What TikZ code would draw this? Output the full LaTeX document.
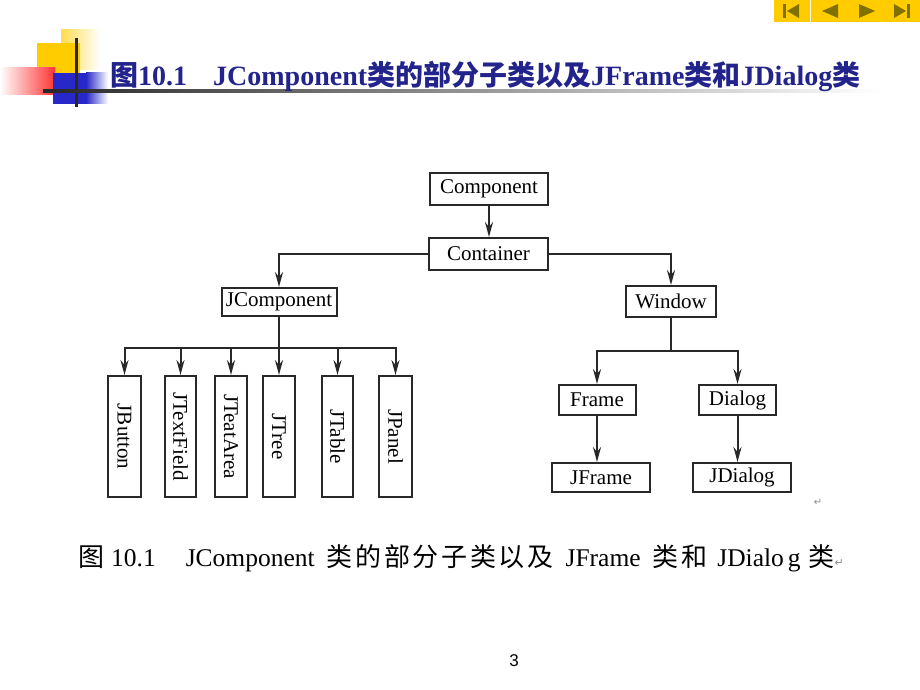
\documentclass[tikz,border=0pt]{standalone}
\usepackage{fontspec}
\setmainfont{Liberation Serif}
\newfontfamily\cjk{Noto Sans CJK SC}
\newfontfamily\dejavu{DejaVu Sans}
\newfontfamily\lsans{Liberation Sans}
\usetikzlibrary{arrows.meta}
\definecolor{titleblue}{RGB}{35,35,140}
\definecolor{navgold}{RGB}{255,204,0}
\definecolor{navolive}{RGB}{128,112,0}
\definecolor{decoyellow}{RGB}{255,204,0}
\definecolor{decoblue}{RGB}{40,40,200}
\definecolor{linegray}{RGB}{40,40,40}
\newcommand{\capcjk}[1]{{\cjk\fontsize{26}{28}\selectfont #1}}
\begin{document}
\begin{tikzpicture}[x=1pt,y=-1pt,
  box/.style={draw=linegray,line width=2pt,inner sep=0pt,font=\fontsize{21}{23}\selectfont,text=black},
  vbox/.style={box,rotate=-90,minimum width=121pt},
  arr/.style={draw=linegray,line width=2pt,-{Stealth[length=15pt,width=8pt,inset=5pt]}},
  ln/.style={draw=linegray,line width=2pt}]
\useasboundingbox (0,0) rectangle (920,690);
\fill[white] (0,0) rectangle (920,690);
% navigation bar
\fill[navgold] (774,0) rectangle (920,22);
\draw[white!90!navgold,line width=0.6pt] (810,0) -- (810,22);
\fill[navolive] (783,4) rectangle (785.5,18);
\fill[navolive] (787,11) -- (799,4) -- (799,18) -- cycle;
\fill[navolive] (822,11) -- (838,4) -- (838,18) -- cycle;
\fill[navolive] (859,4) -- (875,11) -- (859,18) -- cycle;
\fill[navolive] (894,4) -- (906,11) -- (894,18) -- cycle;
\fill[navolive] (907,4) rectangle (909.5,18);
% decoration
\shade[left color=decoyellow!70,right color=white] (61,30) rectangle (100,70);
\fill[decoyellow] (37,43) rectangle (80,75);
\shade[left color=white,right color=red!80] (0,68) rectangle (55,95);
\fill[decoblue] (53,73) rectangle (86,104);
\shade[left color=decoblue,right color=white] (86,73) rectangle (108,104);
\fill[linegray] (75,38) rectangle (78,107);
\shade[left color=black!85,right color=white] (43,89.5) rectangle (880,92.5);
% title
\node[anchor=base west,inner sep=0pt,text=titleblue,font=\fontsize{28}{30}\selectfont\bfseries] (title) at (110,86)
  {{\cjk 图}10.1\hspace{26pt}JComponent{\cjk 类的部分子类以及}JFrame{\cjk 类和}JDialog{\cjk 类}};
% diagram nodes
\node[box,minimum width=118pt,minimum height=32pt] (comp) at (489,189) {Component};
\node[box,minimum width=119pt,minimum height=32pt] (cont) at (488.5,254) {Container};
\node[box,minimum width=115pt,minimum height=28pt] (jcomp) at (279,302) {JComponent};
\node[box,minimum width=90pt,minimum height=31pt] (win) at (671,301.5) {Window};
\node[box,minimum width=77pt,minimum height=30pt] (frame) at (597,400) {Frame};
\node[box,minimum width=77pt,minimum height=30pt] (dialog) at (737.5,400) {Dialog};
\node[box,minimum width=98pt,minimum height=29pt] (jframe) at (601,477.5) {JFrame};
\node[box,minimum width=98pt,minimum height=29pt] (jdialog) at (742,477.5) {JDialog};
\node[vbox,minimum height=33pt] (jbutton) at (124.5,436.5) {JButton};
\node[vbox,minimum height=31pt] (jtextfield) at (180.5,436.5) {JTextField};
\node[vbox,minimum height=32pt] (jtextarea) at (231,436.5) {JTeatArea};
\node[vbox,minimum height=32pt] (jtree) at (279,436.5) {JTree};
\node[vbox,minimum height=31pt] (jtable) at (337.5,436.5) {JTable};
\node[vbox,minimum height=33pt] (jpanel) at (395.5,436.5) {JPanel};
\coordinate (busA) at (279,348);
\coordinate (busB) at (671,351);
% connectors
\draw[arr] (comp) -- (comp |- cont.north);
\draw[arr] (cont.west) -| (jcomp.north);
\draw[arr] (cont.east) -| (win.north);
\draw[ln] (jcomp.south) -- (busA);
\foreach \c in {jbutton,jtextfield,jtextarea,jtree,jtable,jpanel}
  \draw[arr] (busA) -| (\c.west);
\draw[ln] (win.south) -- (busB);
\draw[arr] (busB) -| (frame.north);
\draw[arr] (busB) -| (dialog.north);
\draw[arr] (frame.south) -- (frame.south |- jframe.north);
\draw[arr] (dialog.south) -- (dialog.south |- jdialog.north);
\node[text=black!45,font=\dejavu\fontsize{10}{12}\selectfont,inner sep=0pt] (mark1) at (818,502) {↵};
% caption
\node[anchor=base west,inner sep=0pt,font=\fontsize{25.5}{28}\selectfont,text=black] (caption) at (78,566)
  {\capcjk{图}\hspace{7pt}10.1\hspace{30pt}JComponent\hspace{12pt}\capcjk{类\hspace{2.7pt}的\hspace{2.7pt}部\hspace{2.7pt}分\hspace{2.7pt}子\hspace{2.7pt}类\hspace{2.7pt}以\hspace{2.7pt}及}\hspace{12pt}JFrame\hspace{12pt}\capcjk{类\hspace{2.7pt}和}\hspace{10pt}JDialo\hspace{4pt}g\hspace{8pt}\capcjk{类}{\dejavu\color{black!45}\fontsize{11}{12}\selectfont ↵}};
% page number
\node[font=\lsans\fontsize{17}{20}\selectfont,inner sep=0pt] (page) at (514,661) {3};
\end{tikzpicture}
\end{document}
